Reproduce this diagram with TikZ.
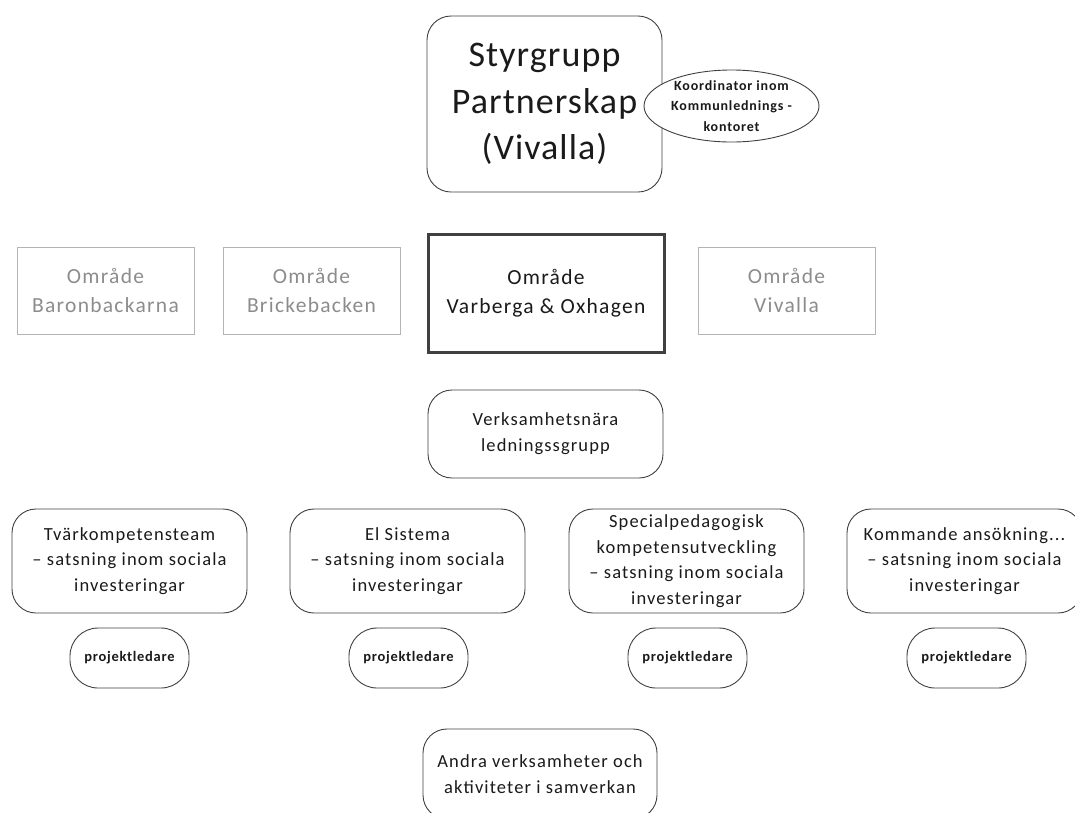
\documentclass[tikz,border=0pt]{standalone}
\usepackage{fontspec}
\setmainfont{Carlito}
\newfontfamily\wideA{Carlito}[LetterSpace=3]
\newfontfamily\wideB{Carlito}[LetterSpace=6]
\newfontfamily\wideC{Carlito}[LetterSpace=5]
\usetikzlibrary{shapes.geometric}
\definecolor{grtext}{HTML}{8C8C8C}
\definecolor{grline}{HTML}{B4B4B4}
\definecolor{dline}{HTML}{404040}
\definecolor{txt}{HTML}{1A1A1A}
\begin{document}
\begin{tikzpicture}[x=1pt,y=-1pt,
  rbox/.style={draw=dline,line width=0.9pt,rounded corners=24pt,align=center,text=txt,inner sep=0pt},
  gbox/.style={draw=grline,line width=1pt,align=center,text=grtext,inner sep=0pt,font=\wideB\fontsize{21.5}{29}\selectfont},
  pbox/.style={draw=dline,line width=0.9pt,rounded corners=28pt,align=center,text=txt,inner sep=0pt,minimum width=119pt,minimum height=60pt,font=\wideC\fontsize{14.5}{15}\selectfont\bfseries},
  sbox/.style={rbox,minimum width=235pt,minimum height=104pt,font=\wideB\fontsize{18.5}{25.5}\selectfont}]
\useasboundingbox (0,0) rectangle (1075,812);
% Styrgrupp
\node[rbox,minimum width=235pt,minimum height=176pt,font=\wideA\fontsize{36}{46.5}\selectfont] (styr) at (544.5,104) {Styrgrupp\\Partnerskap\\(Vivalla)};
\node[draw=dline,line width=0.9pt,ellipse,fill=white,minimum width=175pt,minimum height=72pt,inner sep=0pt,align=center,text=txt,font=\wideB\fontsize{14}{20.5}\selectfont\bfseries] (koord) at (731.5,106) {Koordinator inom\\Kommunlednings -\\kontoret};
% Område
\node[gbox,minimum width=177pt,minimum height=87pt] (baron) at (105.5,290.5) {Område\\Baronbackarna};
\node[gbox,minimum width=177pt,minimum height=87pt] (brick) at (311.5,290.5) {Område\\Brickebacken};
\node[draw=dline,line width=3pt,align=center,text=txt,inner sep=0pt,minimum width=236pt,minimum height=118pt,font=\wideB\fontsize{21.5}{29}\selectfont] (varb) at (546,293) {Område\\Varberga \& Oxhagen};
\node[gbox,minimum width=177pt,minimum height=87pt] (viv) at (786.5,290.5) {Område\\Vivalla};
% Verksamhetsnära
\node[rbox,minimum width=235pt,minimum height=88pt,font=\wideB\fontsize{18.5}{26}\selectfont] (verk) at (545.5,434) {Verksamhetsnära\\ledningssgrupp};
% Satsningar
\node[sbox] (s1) at (129.5,561) {Tvärkompetensteam\\– satsning inom sociala\\investeringar};
\node[sbox] (s2) at (407.5,561) {El Sistema\\– satsning inom sociala\\investeringar};
\node[sbox] (s3) at (686.5,561) {Specialpedagogisk\\kompetensutveckling\\– satsning inom sociala\\investeringar};
\node[sbox] (s4) at (964.5,561) {Kommande ansökning...\\– satsning inom sociala\\investeringar};
% projektledare
\node[pbox] (p1) at (129.5,658) {projektledare};
\node[pbox] (p2) at (408.5,658) {projektledare};
\node[pbox] (p3) at (687.5,658) {projektledare};
\node[pbox] (p4) at (966.5,658) {projektledare};
% Andra
\node[rbox,minimum width=234pt,minimum height=90pt,font=\wideB\fontsize{18.5}{26}\selectfont] (andra) at (540,774) {Andra verksamheter och\\aktiviteter i samverkan};
\end{tikzpicture}
\end{document}
